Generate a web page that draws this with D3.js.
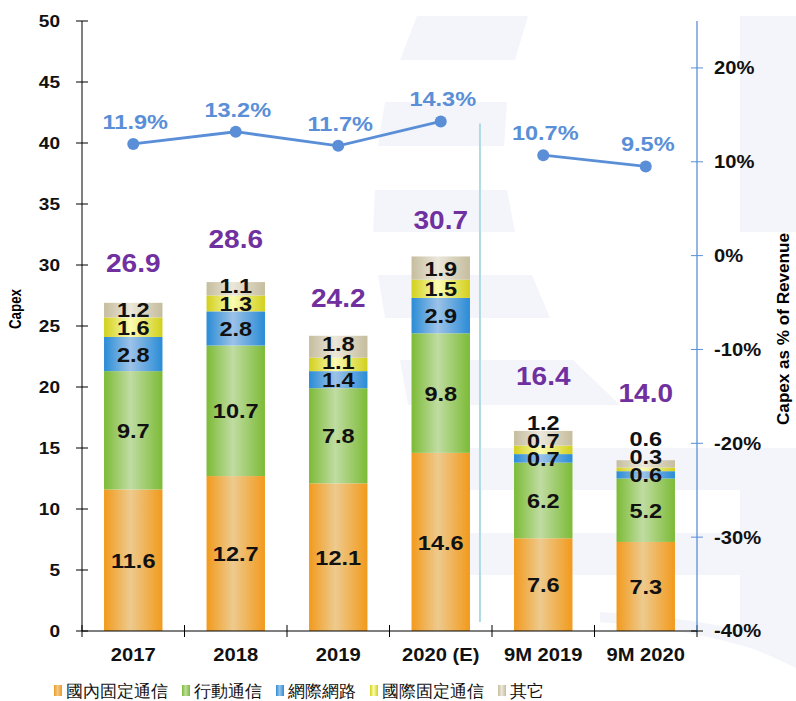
<!DOCTYPE html>
<html>
<head>
<meta charset="utf-8">
<script src="https://cdn.jsdelivr.net/npm/d3@7"></script>
<style>
  body { margin: 0; background: #fff; }
  text { font-family: "Liberation Sans", Arial, sans-serif; }
</style>
</head>
<body>
<script>

let width = 796;
let height = 701;

// data
let categories = ["2017", "2018", "2019", "2020 (E)", "9M 2019", "9M 2020"];
let periods = ["FY", "FY", "FY", "FY", "9M", "9M"];
let seriesNames = ["國內固定通信", "行動通信", "網際網路", "國際固定通信", "其它"];
let domesticFixed = [11.6, 12.7, 12.1, 14.6, 7.6, 7.3];
let mobile = [9.7, 10.7, 7.8, 9.8, 6.2, 5.2];
let internet = [2.8, 2.8, 1.4, 2.9, 0.7, 0.6];
let intlFixed = [1.6, 1.3, 1.1, 1.5, 0.7, 0.3];
let other = [1.2, 1.1, 1.8, 1.9, 1.2, 0.6];
let totals = [26.9, 28.6, 24.2, 30.7, 16.4, 14.0];
let capexPct = [11.9, 13.2, 11.7, 14.3, 10.7, 9.5];
let leftTicks = [0, 5, 10, 15, 20, 25, 30, 35, 40, 45, 50];
let rightTicks = [-40, -30, -20, -10, 0, 10, 20];

let colors = [
	{ dark: "#f29a1c", light: "#edca8e" },
	{ dark: "#7cbb36", light: "#c0dca2" },
	{ dark: "#2a8cd6", light: "#9cc2e8" },
	{ dark: "#d2d01c", light: "#fbfbb2" },
	{ dark: "#c6bd9e", light: "#ebe7da" }
];
let lineColor = "#5a8fd8";

let margins = { top: 21, right: 99, bottom: 70, left: 82 };

let xScale = d3.scaleBand()
	.domain(categories)
	.range([margins.left, width - margins.right])
	.paddingInner(0.43)
	.paddingOuter(0.215);

let yScale = d3.scaleLinear()
	.domain([0, 50])
	.range([height - margins.bottom, margins.top]);

let yPct = d3.scaleLinear()
	.domain([-40, 25])
	.range([height - margins.bottom, margins.top]);

let svg = d3.select("body")
	.append("svg")
		.attr("width", width)
		.attr("height", height);

// gradients for the bars
let defs = svg.append("defs");
colors.forEach((c, i) => {
	let g = defs.append("linearGradient")
		.attr("id", "grad" + i)
		.attr("x1", 0).attr("x2", 1).attr("y1", 0).attr("y2", 0);
	g.append("stop").attr("offset", "0%").attr("stop-color", c.dark);
	g.append("stop").attr("offset", "45%").attr("stop-color", c.light);
	g.append("stop").attr("offset", "100%").attr("stop-color", c.dark);
});

// faint background watermark
let wm = svg.append("g").attr("fill", "#f4f5fa");
[
	"M417,16 L528,16 L515,60 L400,60 Z",
	"M385,102 L507,102 L504,146 L378,146 Z",
	"M375,190 L507,190 L515,232 L373,232 Z",
	"M378,275 L532,275 L550,318 L385,318 Z",
	"M740,16 L796,16 L796,232 L740,232 Z",
	"M400,360 L573,360 L620,405 L408,405 Z",
	"M470,448 L796,448 L796,490 L470,490 Z",
	"M740,490 L796,490 L796,668 Q760,650 740,645 Z",
	"M470,533 L740,533 L740,575 L470,575 Z",
	"M600,612 Q690,618 740,630 L740,645 Q680,628 600,622 Z"
].forEach(d => wm.append("path").attr("d", d));

// stacked bars
let seriesData = [domesticFixed, mobile, internet, intlFixed, other];
let rows = categories.map((c, i) => {
	let r = { cat: c };
	seriesNames.forEach((s, j) => r[s] = seriesData[j][i]);
	return r;
});
let stacked = d3.stack().keys(seriesNames)(rows);

let bars = svg.append("g");
stacked.forEach((layer, j) => {
	bars.selectAll(null)
		.data(layer)
		.enter()
		.append("rect")
			.attr("x", d => xScale(d.data.cat))
			.attr("width", xScale.bandwidth())
			.attr("y", d => yScale(d[1]))
			.attr("height", d => yScale(d[0]) - yScale(d[1]))
			.attr("fill", "url(#grad" + j + ")");
});

// segment labels, pushed up when the segments are too thin
let labelGap = 18;
let topLabelY = [];
let segLabels = svg.append("g")
	.attr("font-weight", "bold")
	.attr("font-size", 21)
	.attr("fill", "#111")
	.attr("text-anchor", "middle");
categories.forEach((c, i) => {
	let prev = null;
	stacked.forEach(layer => {
		let d = layer[i];
		let y = yScale((d[0] + d[1]) / 2);
		if (prev !== null) y = Math.min(y, prev - labelGap);
		prev = y;
		segLabels.append("text")
			.attr("class", "wide")
			.attr("x", xScale(c) + xScale.bandwidth() / 2)
			.attr("y", y)
			.attr("dy", "0.36em")
			.text(d3.format(".1f")(d[1] - d[0]));
	});
	topLabelY.push(prev);
});

// totals
svg.append("g")
	.selectAll("text")
	.data(totals)
	.enter()
	.append("text")
		.attr("class", "wide")
		.attr("x", (d, i) => xScale(categories[i]) + xScale.bandwidth() / 2)
		.attr("y", (d, i) => Math.min(yScale(d), topLabelY[i] - 10) - 36)
		.attr("dy", "0.36em")
		.attr("text-anchor", "middle")
		.attr("font-weight", "bold")
		.attr("font-size", 25)
		.attr("fill", "#7030a0")
		.text(d => d3.format(".1f")(d));

// separator between full year and 9M figures
let sepX = xScale(categories[3]) + xScale.bandwidth() + 10;
svg.append("line")
	.attr("x1", sepX).attr("x2", sepX)
	.attr("y1", yPct(capexPct[3]) + 2)
	.attr("y2", yScale(0) - 9)
	.attr("stroke", "#aedbe2")
	.attr("stroke-width", 2);

// left axis
let axisG = svg.append("g").attr("font-weight", "bold").attr("fill", "#111");
axisG.append("line")
	.attr("x1", margins.left).attr("x2", margins.left)
	.attr("y1", yScale(50)).attr("y2", yScale(0))
	.attr("stroke", "#000");
leftTicks.forEach(t => {
	axisG.append("line")
		.attr("x1", margins.left - 6).attr("x2", margins.left + 6)
		.attr("y1", yScale(t)).attr("y2", yScale(t))
		.attr("stroke", "#000");
	axisG.append("text")
		.attr("class", "wide")
		.attr("x", 60)
		.attr("y", yScale(t))
		.attr("dy", "0.36em")
		.attr("text-anchor", "end")
		.attr("font-size", 17)
		.text(t);
});

// bottom axis
let x0 = margins.left, x1 = width - margins.right;
axisG.append("line")
	.attr("x1", x0).attr("x2", x1)
	.attr("y1", yScale(0)).attr("y2", yScale(0))
	.attr("stroke", "#000");
let step = xScale.step();
d3.range(categories.length + 1).forEach(k => {
	let x = x0 + k * step;
	axisG.append("line")
		.attr("x1", x).attr("x2", x)
		.attr("y1", yScale(0) - 6).attr("y2", yScale(0) + 6)
		.attr("stroke", "#000");
});
categories.forEach(c => {
	axisG.append("text")
		.attr("class", "wide")
		.attr("x", xScale(c) + xScale.bandwidth() / 2)
		.attr("y", yScale(0) + 30)
		.attr("text-anchor", "middle")
		.attr("font-size", 18)
		.text(c);
});

// right axis
let rAxis = svg.append("g");
rAxis.append("line")
	.attr("x1", x1).attr("x2", x1)
	.attr("y1", yPct(25)).attr("y2", yPct(-40))
	.attr("stroke", lineColor)
	.attr("stroke-width", 1.3);
rightTicks.forEach(t => {
	rAxis.append("line")
		.attr("x1", x1 - 6).attr("x2", x1 + 6)
		.attr("y1", yPct(t)).attr("y2", yPct(t))
		.attr("stroke", t === -40 ? "#000" : lineColor);
	rAxis.append("text")
		.attr("class", "wide")
		.attr("x", x1 + 17)
		.attr("y", yPct(t))
		.attr("dy", "0.36em")
		.attr("font-weight", "bold")
		.attr("font-size", 18)
		.attr("fill", "#111")
		.text(t + "%");
});

// axis titles
svg.append("text")
	.attr("transform", "translate(21,309) rotate(-90)")
	.attr("text-anchor", "middle")
	.attr("font-family", "'Liberation Sans Narrow', 'Arial Narrow', sans-serif")
	.attr("font-weight", "bold")
	.attr("font-size", 17)
	.attr("textLength", 40)
	.attr("lengthAdjust", "spacingAndGlyphs")
	.text("Capex");
svg.append("text")
	.attr("transform", "translate(789,329) rotate(-90)")
	.attr("text-anchor", "middle")
	.attr("font-family", "'Liberation Sans Narrow', 'Arial Narrow', sans-serif")
	.attr("font-weight", "bold")
	.attr("font-size", 17)
	.attr("textLength", 192)
	.attr("lengthAdjust", "spacingAndGlyphs")
	.text("Capex as % of Revenue");

// capex as % of revenue line
let pts = capexPct.map((v, i) => ({
	x: xScale(categories[i]) + xScale.bandwidth() / 2,
	y: yPct(v),
	v: v,
	period: periods[i]
}));
let valueline = d3.line().x(d => d.x).y(d => d.y);
let groups = d3.groups(pts, d => d.period);
groups.forEach(g => {
	svg.append("path")
		.datum(g[1])
		.attr("d", valueline)
		.style("fill", "none")
		.style("stroke", lineColor)
		.style("stroke-width", "2.8px");
});
svg.append("g")
	.selectAll("circle")
	.data(pts)
	.enter()
	.append("circle")
		.attr("cx", d => d.x)
		.attr("cy", d => d.y)
		.attr("r", 6)
		.attr("fill", lineColor);
svg.append("g")
	.selectAll("text")
	.data(pts)
	.enter()
	.append("text")
		.attr("class", "wide")
		.attr("x", d => d.x + 2)
		.attr("y", d => d.y - 15)
		.attr("text-anchor", "middle")
		.attr("font-weight", "bold")
		.attr("font-size", 21)
		.attr("fill", lineColor)
		.text(d => d3.format(".1f")(d.v) + "%");

// the original's lettering is a little wider than Arial
svg.selectAll("text.wide").each(function() {
	let w = this.getComputedTextLength();
	d3.select(this)
		.attr("textLength", w * 1.12)
		.attr("lengthAdjust", "spacingAndGlyphs");
});

// legend
let legend = svg.append("g");
let lx = 54;
seriesNames.forEach((s, j) => {
	legend.append("rect")
		.attr("x", lx).attr("y", 685)
		.attr("width", 8).attr("height", 11)
		.attr("fill", "url(#grad" + j + ")");
	let t = legend.append("text")
		.attr("x", lx + 12)
		.attr("y", 691)
		.attr("dy", "0.36em")
		.attr("font-family", "'Noto Sans CJK TC', sans-serif")
		.attr("font-size", 16.5)
		.attr("fill", "#111")
		.text(s);
	lx += 12 + t.node().getComputedTextLength() + 14;
});

</script>
</body>
</html>
